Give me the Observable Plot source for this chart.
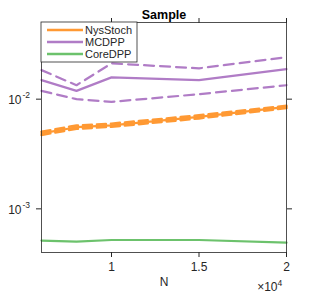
<!DOCTYPE html>
<html>
<head>
<meta charset="utf-8">
<script src="https://cdn.jsdelivr.net/npm/d3@7"></script>
<script src="https://cdn.jsdelivr.net/npm/@observablehq/plot@0.6"></script>
<style>
  html, body { margin: 0; padding: 0; background: #fff; }
  #chart { width: 316px; height: 296px; }
</style>
</head>
<body>
<div id="chart"></div>
<script>
const N = [6000, 8000, 10000, 15000, 20000];
const nysMean  = [0.00488, 0.00555, 0.00578, 0.00689, 0.0085];
const nysUpper = [0.00505, 0.00575, 0.00598, 0.00712, 0.0087];
const nysLower = [0.00472, 0.00537, 0.00560, 0.00668, 0.0083];
const mcMean   = [0.0149, 0.0119, 0.0158, 0.0149, 0.0188];
const mcUpper  = [0.0184, 0.0134, 0.0212, 0.0191, 0.0241];
const mcLower  = [0.0119, 0.0100, 0.00945, 0.0111, 0.0134];
const coreMean = [0.000513, 0.000502, 0.00052, 0.00052, 0.000492];

const seriesNames = ["NysStoch", "MCDPP", "CoreDPP"];
const seriesColors = ["#ff9933", "#b07cc6", "#6cc26c"];
const xTicks = [10000, 15000, 20000];
const yTicks = [0.001, 0.01];
const yExponents = ["-3", "-2"];

const rows = (ys) => N.map((n, i) => ({n, v: ys[i]}));
const axisColor = "#262626";

const plot = Plot.plot({
  width: 316,
  height: 296,
  marginLeft: 41,
  marginRight: 30,
  marginTop: 22,
  marginBottom: 44,
  style: {fontFamily: "'Liberation Sans', Arial, sans-serif", fontSize: "12px", color: axisColor, background: "#fff"},
  x: {domain: [6000, 20000], label: null},
  y: {type: "log", domain: [0.0004, 0.05], label: null},
  marks: [
    Plot.line(rows(coreMean), {x: "n", y: "v", stroke: seriesColors[2], strokeWidth: 2.2}),
    Plot.line(rows(mcUpper), {x: "n", y: "v", stroke: seriesColors[1], strokeWidth: 2.2, strokeDasharray: "10,6"}),
    Plot.line(rows(mcLower), {x: "n", y: "v", stroke: seriesColors[1], strokeWidth: 2.2, strokeDasharray: "10,6"}),
    Plot.line(rows(mcMean), {x: "n", y: "v", stroke: seriesColors[1], strokeWidth: 2.2}),
    Plot.line(rows(nysUpper), {x: "n", y: "v", stroke: seriesColors[0], strokeWidth: 2.5, strokeDasharray: "9,5"}),
    Plot.line(rows(nysLower), {x: "n", y: "v", stroke: seriesColors[0], strokeWidth: 2.5, strokeDasharray: "9,5"}),
    Plot.line(rows(nysMean), {x: "n", y: "v", stroke: seriesColors[0], strokeWidth: 2.2}),
    Plot.frame({stroke: axisColor, strokeWidth: 0.8}),
    Plot.axisX({anchor: "bottom", ticks: xTicks, tickSize: 5, tickPadding: 5, tickFormat: d => String(d / 1e4), stroke: axisColor, fill: axisColor}),
    Plot.axisX({anchor: "top", ticks: xTicks, tickSize: 5, tickFormat: () => "", stroke: axisColor}),
    Plot.axisY({anchor: "left", ticks: yTicks, tickSize: 5, tickFormat: () => "", stroke: axisColor}),
    Plot.axisY({anchor: "right", ticks: yTicks, tickSize: 5, tickFormat: () => "", stroke: axisColor}),
    Plot.text(yTicks, {y: d => d, frameAnchor: "left", text: () => "10", textAnchor: "end", dx: -20, dy: 1, fontSize: 12, fill: axisColor}),
    Plot.text(yTicks, {y: d => d, frameAnchor: "left", text: (d, i) => yExponents[i], textAnchor: "start", dx: -19, dy: -4, fontSize: 8.5, fill: axisColor}),
    Plot.text(["Sample"], {frameAnchor: "top", text: d => d, dy: -12, fontWeight: "bold", fontSize: 12.5, fill: "#000"}),
    Plot.text(["N"], {frameAnchor: "bottom", text: d => d, dy: 33, fontSize: 12, fill: axisColor}),
    Plot.text(["×10"], {frameAnchor: "bottom-right", text: d => d, dx: -9, dy: 38, textAnchor: "end", fontSize: 12, fill: axisColor}),
    Plot.text(["4"], {frameAnchor: "bottom-right", text: d => d, dx: -9, dy: 33, textAnchor: "start", fontSize: 8.5, fill: axisColor})
  ]
});

const svg = d3.select(plot);
const lg = svg.append("g").attr("transform", "translate(41,22)");
lg.append("rect").attr("x", 0).attr("y", 0).attr("width", 96).attr("height", 40)
  .attr("fill", "#fff").attr("stroke", axisColor).attr("stroke-width", 0.8);
seriesNames.forEach((name, i) => {
  const yy = 8 + i * 12;
  lg.append("line").attr("x1", 6).attr("x2", 42).attr("y1", yy).attr("y2", yy)
    .attr("stroke", seriesColors[i]).attr("stroke-width", 2.5);
  lg.append("text").attr("x", 44).attr("y", yy).attr("dy", "0.35em")
    .attr("text-anchor", "start")
    .attr("font-size", 11).attr("fill", axisColor)
    .attr("font-family", "'Liberation Sans', Arial, sans-serif").text(name);
});

document.getElementById("chart").appendChild(plot);
</script>
</body>
</html>
